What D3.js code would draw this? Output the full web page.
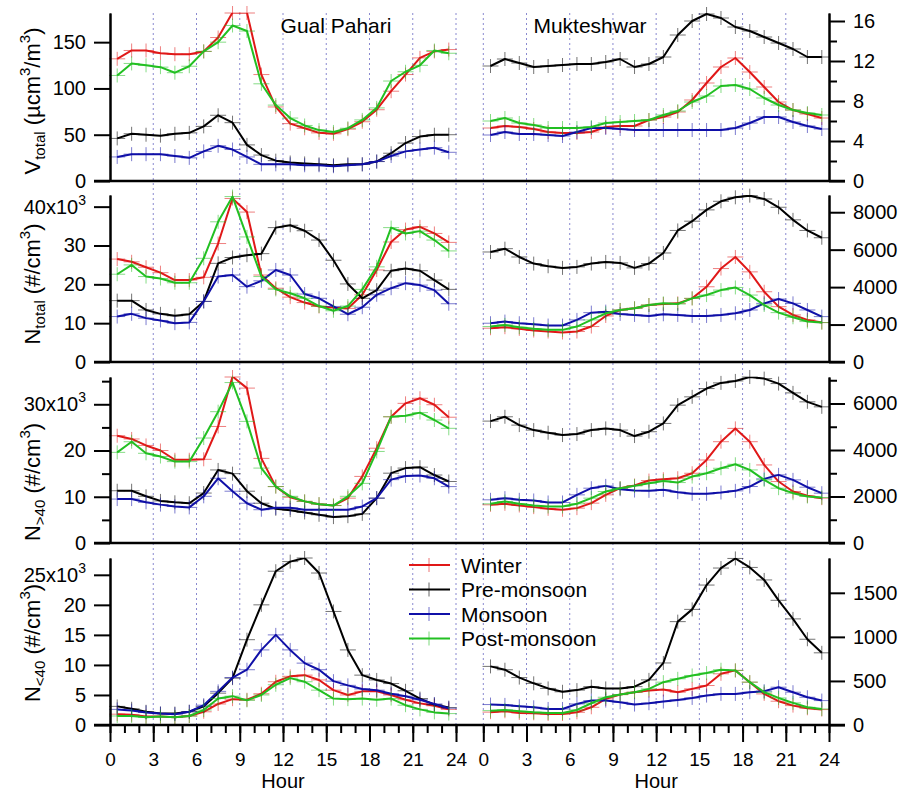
<!DOCTYPE html>
<html>
<head>
<meta charset="utf-8">
<script src="https://cdn.jsdelivr.net/npm/d3@7/dist/d3.min.js"></script>
<style>
    body { margin: 0; background: #fff; }
    svg text { font-family: "Liberation Sans", Arial, sans-serif; fill: #000; }
</style>
</head>
<body>
<svg id="chart" width="906" height="791"></svg>
<script>
// hour of day (bin centres)
const hours = [0.5, 1.5, 2.5, 3.5, 4.5, 5.5, 6.5, 7.5, 8.5, 9.5, 10.5, 11.5,
    12.5, 13.5, 14.5, 15.5, 16.5, 17.5, 18.5, 19.5, 20.5, 21.5, 22.5, 23.5];
const seasons = ["Winter", "Pre-monsoon", "Monsoon", "Post-monsoon"];
const hourTicks = [0, 3, 6, 9, 12, 15, 18, 21, 24];
const sites = ["Gual Pahari", "Mukteshwar"];

// each panel: [Winter, Pre-monsoon, Monsoon, Post-monsoon]
// V_total, um^3/m^3
const gpVtotal = [
    [132, 141, 141, 138, 137, 137, 140, 155, 182, 182, 115, 80, 62, 57, 52, 51, 56, 64, 77, 97, 115, 133, 140, 142],
    [46, 51, 50, 49, 51, 52, 59, 71, 63, 39, 28, 22, 20, 19, 18, 17, 18, 18, 21, 30, 41, 48, 50, 50],
    [26, 29, 29, 29, 27, 25, 32, 38, 34, 26, 18, 18, 18, 17, 17, 16, 17, 18, 21, 27, 32, 34, 36, 31],
    [114, 127, 125, 123, 117, 124, 140, 150, 168, 162, 105, 82, 68, 60, 55, 53, 57, 66, 79, 108, 118, 125, 141, 138]
];
const mkVtotal = [
    [5.3, 5.5, 5.4, 5.2, 4.9, 4.8, 4.8, 4.9, 5.4, 5.5, 5.5, 6.1, 6.4, 6.9, 8.1, 9.8, 11.4, 12.3, 10.9, 9.4, 7.9, 7.1, 6.7, 6.3],
    [11.5, 12.2, 11.8, 11.4, 11.5, 11.6, 11.7, 11.7, 11.9, 12.2, 11.4, 11.7, 12.4, 14.6, 16.0, 16.7, 16.3, 15.4, 15.0, 14.4, 13.8, 13.2, 12.4, 12.4],
    [4.6, 4.9, 4.7, 4.7, 4.6, 4.5, 4.9, 5.3, 5.3, 5.2, 5.1, 5.1, 5.1, 5.1, 5.1, 5.1, 5.1, 5.3, 5.8, 6.4, 6.4, 5.9, 5.5, 5.2],
    [6.0, 6.3, 5.8, 5.6, 5.3, 5.3, 5.3, 5.4, 5.8, 5.9, 6.0, 6.1, 6.6, 7.0, 7.9, 8.5, 9.5, 9.6, 9.2, 8.3, 7.6, 7.1, 6.8, 6.6]
];
// N_total, #/cm^3 (Gual Pahari in 10^3)
const gpNtotal = [
    [26.5, 25.8, 24.4, 23.0, 21.1, 21.1, 21.8, 30.5, 42.1, 38.6, 22.4, 19.0, 16.7, 15.3, 14.3, 14.0, 13.8, 17.3, 23.7, 30.9, 34.1, 34.8, 33.1, 30.8],
    [15.8, 15.8, 13.4, 12.4, 11.9, 12.3, 15.6, 25.4, 26.9, 27.5, 27.9, 34.6, 35.2, 33.8, 31.4, 26.2, 20.1, 16.4, 18.5, 23.5, 24.1, 23.5, 21.1, 18.7],
    [11.7, 12.4, 11.3, 10.7, 10.0, 10.2, 15.6, 22.0, 22.4, 19.4, 20.9, 23.7, 22.4, 17.5, 16.4, 14.3, 12.3, 14.1, 17.3, 19.0, 20.3, 19.8, 18.5, 15.0],
    [22.6, 25.0, 22.0, 21.5, 20.4, 20.4, 26.7, 36.1, 42.6, 32.2, 22.0, 18.7, 17.7, 16.4, 14.4, 13.2, 14.4, 18.7, 24.5, 34.6, 33.1, 33.7, 31.4, 28.6]
];
const mkNtotal = [
    [1805, 1858, 1770, 1681, 1628, 1575, 1628, 1894, 2460, 2779, 2867, 3044, 3097, 3133, 3398, 4018, 4991, 5610, 4814, 3752, 2956, 2513, 2248, 2106],
    [5876, 6053, 5610, 5257, 5115, 5027, 5080, 5257, 5345, 5292, 5027, 5257, 5823, 7027, 7522, 8124, 8584, 8796, 8885, 8708, 8265, 7593, 7027, 6637],
    [2071, 2159, 2071, 2018, 1947, 1947, 2248, 2637, 2690, 2566, 2513, 2460, 2549, 2513, 2460, 2460, 2513, 2602, 2779, 3133, 3363, 3133, 2779, 2425],
    [1894, 1982, 1858, 1770, 1717, 1717, 1894, 2248, 2602, 2779, 2867, 3044, 3133, 3097, 3398, 3575, 3841, 3982, 3575, 3044, 2637, 2389, 2159, 2106]
];
// N>40
const gpNgt40 = [
    [23.2, 22.5, 21.1, 20.0, 18.0, 18.0, 18.1, 25.2, 36.0, 33.5, 18.3, 12.2, 9.9, 9.0, 8.4, 8.1, 9.7, 14.4, 20.5, 27.3, 30.2, 31.3, 29.9, 27.2],
    [11.3, 11.3, 10.1, 9.1, 8.8, 8.6, 10.8, 15.8, 15.0, 11.2, 8.6, 7.4, 7.1, 6.6, 6.1, 5.6, 5.8, 6.3, 9.7, 15.1, 16.2, 16.4, 14.7, 13.3],
    [9.5, 9.5, 8.8, 8.3, 7.9, 7.7, 10.1, 14.0, 11.2, 8.6, 7.2, 7.6, 7.6, 7.2, 7.2, 7.2, 7.2, 7.9, 9.7, 13.7, 14.5, 14.6, 14.0, 12.2],
    [19.6, 21.9, 19.4, 18.7, 17.6, 17.6, 22.7, 28.4, 34.7, 26.3, 16.2, 12.2, 10.1, 9.0, 8.4, 8.1, 10.1, 12.9, 19.8, 27.3, 27.5, 28.2, 26.6, 24.8]
];
const mkNgt40 = [
    [1643, 1686, 1614, 1543, 1471, 1429, 1500, 1714, 2071, 2357, 2471, 2686, 2743, 2786, 3000, 3571, 4357, 4929, 4357, 3357, 2643, 2214, 2029, 1929],
    [5243, 5429, 5071, 4857, 4743, 4643, 4686, 4857, 4929, 4857, 4600, 4786, 5143, 5929, 6286, 6643, 6886, 6971, 7143, 7071, 6857, 6457, 6071, 5857],
    [1857, 1929, 1857, 1829, 1743, 1743, 2071, 2357, 2457, 2314, 2257, 2243, 2286, 2186, 2114, 2114, 2171, 2243, 2429, 2757, 2929, 2714, 2400, 2143],
    [1686, 1786, 1686, 1614, 1571, 1571, 1686, 1929, 2214, 2357, 2457, 2571, 2671, 2600, 2857, 3000, 3214, 3386, 3143, 2714, 2357, 2143, 2000, 1957]
];
// N<40
const gpNlt40 = [
    [1.8, 1.7, 1.4, 1.4, 1.3, 1.5, 2.2, 3.5, 4.3, 4.2, 5.2, 7.2, 8.1, 8.3, 7.5, 5.8, 5.0, 5.6, 5.6, 5.0, 4.2, 3.6, 3.2, 2.6],
    [3.1, 2.7, 2.2, 1.9, 1.9, 2.2, 3.1, 5.3, 7.8, 14.2, 20.0, 25.6, 27.2, 27.8, 25.3, 18.9, 12.5, 8.3, 7.5, 6.9, 5.7, 4.4, 3.4, 2.9],
    [2.6, 2.4, 2.1, 1.9, 1.8, 2.2, 3.3, 5.6, 7.9, 9.2, 12.5, 15.0, 12.5, 10.3, 9.2, 7.3, 6.6, 6.0, 5.8, 5.2, 4.8, 4.2, 3.5, 2.8],
    [1.5, 1.5, 1.3, 1.4, 1.3, 1.5, 2.5, 4.4, 4.8, 4.1, 5.0, 6.7, 7.8, 7.2, 5.8, 4.4, 4.3, 4.4, 4.2, 4.4, 3.3, 2.6, 2.1, 1.9]
];
const mkNlt40 = [
    [146, 156, 137, 133, 125, 125, 144, 201, 296, 345, 372, 391, 403, 372, 410, 448, 581, 620, 486, 353, 270, 220, 190, 175],
    [665, 627, 538, 473, 415, 377, 396, 435, 415, 415, 435, 512, 704, 1173, 1312, 1588, 1781, 1890, 1788, 1646, 1415, 1204, 973, 819],
    [232, 228, 213, 201, 182, 182, 239, 277, 277, 258, 232, 247, 266, 285, 307, 334, 353, 353, 372, 384, 429, 372, 315, 277],
    [163, 171, 156, 144, 137, 137, 171, 247, 315, 345, 372, 410, 486, 524, 562, 589, 627, 619, 486, 372, 307, 251, 201, 182]
];

const COLORS = ["#e01818", "#000000", "#1010a8", "#22c022"];
const FONT = 20;
const xLeft = [110, 456], xRight = [483.3, 829];
const axisLeftX = 110, axisRightX = 829;

// rows of the figure, axis set-up only
const rows = [
    {top: 13, bottom: 181, labelY: 101, left: gpVtotal, right: mkVtotal,
        lMax: 181.5, lTicks: [0, 50, 100, 150], lMinor: [],
        rMax: 16.8, rTicks: [0, 4, 8, 12, 16], rMinor: [2, 6, 10, 14],
        label: [["V", ""], ["total", "sub"], [" (\u00b5cm", ""], ["3", "sup"], ["/m", ""], ["3", "sup"], [")", ""]]},
    {top: 195, bottom: 362, labelY: 284, left: gpNtotal, right: mkNtotal,
        lMax: 43, lTicks: [0, 10, 20, 30, 40], lMinor: [], lExp: 40,
        rMax: 8920, rTicks: [0, 2000, 4000, 6000, 8000], rMinor: [],
        label: [["N", ""], ["total", "sub"], [" (#/cm", ""], ["3", "sup"], [")", ""]]},
    {top: 377, bottom: 543, labelY: 482, left: gpNgt40, right: mkNgt40,
        lMax: 35.9, lTicks: [0, 10, 20, 30], lMinor: [5, 15, 25, 35], lExp: 30,
        rMax: 7140, rTicks: [0, 2000, 4000, 6000], rMinor: [1000, 3000, 5000, 7000],
        label: [["N", ""], [">40", "sub"], [" (#/cm", ""], ["3", "sup"], [")", ""]]},
    {top: 558, bottom: 725, labelY: 643, left: gpNlt40, right: mkNlt40,
        lMax: 27.8, lTicks: [0, 5, 10, 15, 20, 25], lMinor: [], lExp: 25,
        rMax: 1895, rTicks: [0, 500, 1000, 1500], rMinor: [],
        label: [["N", ""], ["<40", "sub"], [" (#/cm", ""], ["3", "sup"], [")", ""]]}
];

const svg = d3.select("#chart");
const xL = d3.scaleLinear().domain([0, 24]).range(xLeft);
const xR = d3.scaleLinear().domain([0, 24]).range(xRight);

// dotted hour grid, through all rows
const gridTop = rows[0].top, gridBottom = rows[3].bottom;
let grid = svg.append("g");
[[xL, hourTicks.slice(1)], [xR, hourTicks.slice(0, -1)]].forEach(([x, hs]) => {
    grid.selectAll(null).data(hs).enter().append("line")
        .attr("x1", d => x(d)).attr("x2", d => x(d))
        .attr("y1", gridTop).attr("y2", gridBottom)
        .attr("stroke", "#8a8ad0")
        .attr("stroke-width", 1)
        .attr("stroke-dasharray", "2,3");
});

function styleAxis(g) {
    g.selectAll("path").attr("stroke", "#000").attr("stroke-width", 2);
    g.selectAll(".tick line").attr("stroke", "#000").attr("stroke-width", 2);
    g.selectAll(".tick text").attr("font-size", FONT)
        .attr("font-family", "Liberation Sans, Arial, sans-serif");
}

function drawSeries(g, x, y, data, clipId) {
    let line = d3.line()
        .x((d, i) => x(hours[i]))
        .y(d => y(d));
    // red, black, blue, green (green on top)
    data.forEach((vals, s) => {
        let sg = g.append("g");
        sg.append("path")
            .datum(vals)
            .attr("d", line)
            .attr("fill", "none")
            .attr("stroke", COLORS[s])
            .attr("stroke-width", 2)
            .attr("stroke-linejoin", "round")
            .attr("clip-path", "url(#" + clipId + ")");
        sg.selectAll(null).data(vals).enter().append("path")
            .attr("d", (d, i) => {
                let cx = x(hours[i]), cy = y(Math.min(d, y.domain()[1]));
                return "M" + (cx - 8) + "," + cy + "H" + (cx + 8) + "M" + cx + "," + (cy - 7) + "V" + (cy + 7);
            })
            .attr("stroke", COLORS[s])
            .attr("stroke-width", 1)
            .attr("stroke-opacity", 0.55);
    });
}

let defs = svg.append("defs");

rows.forEach((row, r) => {
    let yL = d3.scaleLinear().domain([0, row.lMax]).range([row.bottom, row.top]);
    let yR = d3.scaleLinear().domain([0, row.rMax]).range([row.bottom, row.top]);

    ["L", "R"].forEach((side, c) => {
        let xr = c === 0 ? xLeft : xRight;
        defs.append("clipPath").attr("id", "clip" + r + side)
            .append("rect")
            .attr("x", xr[0]).attr("y", row.top)
            .attr("width", xr[1] - xr[0]).attr("height", row.bottom - row.top);
    });

    drawSeries(svg.append("g"), xL, yL, row.left, "clip" + r + "L");
    drawSeries(svg.append("g"), xR, yR, row.right, "clip" + r + "R");

    // left axis
    let gl = svg.append("g").attr("transform", "translate(" + axisLeftX + ",0)")
        .call(d3.axisLeft(yL).tickValues(row.lTicks).tickSize(16).tickSizeOuter(0).tickPadding(8));
    svg.append("g").attr("transform", "translate(" + axisLeftX + ",0)")
        .call(d3.axisLeft(yL).tickValues(row.lMinor).tickSize(8).tickSizeOuter(0).tickFormat(""))
        .call(styleAxis);
    styleAxis(gl);
    if (row.lExp !== undefined) {
        gl.selectAll(".tick text").filter(d => d === row.lExp)
            .text(null)
            .call(t => {
                t.append("tspan").text(row.lExp + "x10");
                t.append("tspan").attr("dy", -9).attr("font-size", 14).text("3");
            });
    }

    // right axis
    let gr = svg.append("g").attr("transform", "translate(" + axisRightX + ",0)")
        .call(d3.axisRight(yR).tickValues(row.rTicks).tickSize(16).tickSizeOuter(0).tickPadding(8).tickFormat(d3.format("d")));
    svg.append("g").attr("transform", "translate(" + axisRightX + ",0)")
        .call(d3.axisRight(yR).tickValues(row.rMinor).tickSize(8).tickSizeOuter(0).tickFormat(""))
        .call(styleAxis);
    styleAxis(gr);

    // base line of the row, across both panels
    svg.append("line")
        .attr("x1", axisLeftX - 16).attr("x2", axisRightX + 16)
        .attr("y1", row.bottom).attr("y2", row.bottom)
        .attr("stroke", "#000").attr("stroke-width", 2.5);

    // y label
    let lab = svg.append("text")
        .attr("transform", "translate(40," + row.labelY + ") rotate(-90)")
        .attr("text-anchor", "middle")
        .attr("font-size", 22);
    let shift = 0;
    row.label.forEach(([txt, kind]) => {
        let target = kind === "sub" ? 5 : kind === "sup" ? -10 : 0;
        let ts = lab.append("tspan").attr("dy", target - shift).text(txt);
        if (kind) ts.attr("font-size", 15);
        shift = target;
    });
});

// hour axes at the bottom
let bottom = rows[3].bottom;
[xL, xR].forEach((x, c) => {
    let g = svg.append("g").attr("transform", "translate(0," + bottom + ")")
        .call(d3.axisBottom(x).tickValues(hourTicks).tickSize(17).tickSizeOuter(0).tickPadding(11));
    styleAxis(g);
    g.selectAll(".tick text").attr("font-size", 19);
    g.select("path").remove();
    svg.append("g").attr("transform", "translate(0," + bottom + ")")
        .call(d3.axisBottom(x).tickValues(d3.range(0, 25)).tickSize(8).tickSizeOuter(0).tickFormat(""))
        .call(styleAxis)
        .select("path").remove();
    svg.append("text")
        .attr("x", (x.range()[0] + x.range()[1]) / 2)
        .attr("y", 788)
        .attr("text-anchor", "middle")
        .attr("font-size", 20)
        .text("Hour");
});

// site titles
svg.append("text").attr("x", 336).attr("y", 33).attr("text-anchor", "middle")
    .attr("font-size", 21).text(sites[0]);
svg.append("text").attr("x", 590).attr("y", 33).attr("text-anchor", "middle")
    .attr("font-size", 21).text(sites[1]);

// legend
let legend = svg.append("g").attr("transform", "translate(409,565)");
seasons.forEach((s, i) => {
    let lg = legend.append("g").attr("transform", "translate(0," + (i * 24.5) + ")");
    lg.append("line").attr("x1", 0).attr("x2", 41).attr("y1", 0).attr("y2", 0)
        .attr("stroke", COLORS[i]).attr("stroke-width", 2);
    lg.append("line").attr("x1", 20).attr("x2", 20).attr("y1", -7).attr("y2", 7)
        .attr("stroke", COLORS[i]).attr("stroke-width", 1).attr("stroke-opacity", 0.6);
    lg.append("text").attr("x", 52).attr("y", 0).attr("dy", "0.36em")
        .attr("font-size", 21).text(s);
});
</script>
</body>
</html>
